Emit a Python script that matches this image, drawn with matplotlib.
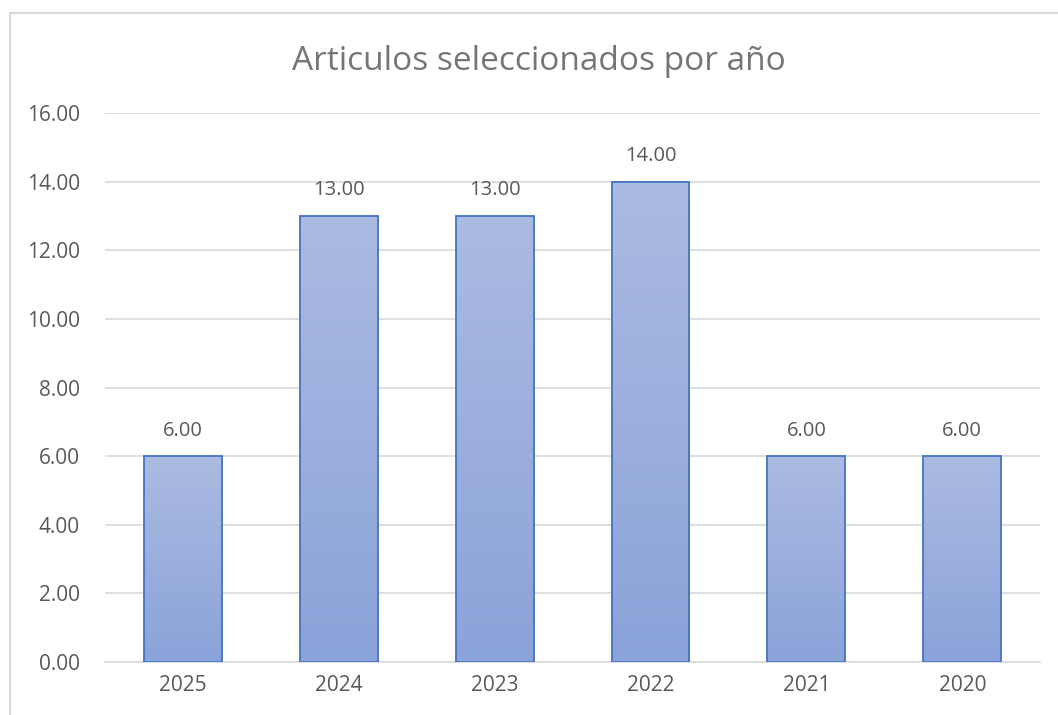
import numpy as np
import matplotlib.pyplot as plt
from matplotlib.patches import Rectangle
from matplotlib.colors import LinearSegmentedColormap

years = ['2025', '2024', '2023', '2022', '2021', '2020']
counts = [6, 13, 13, 14, 6, 6]

plt.rcParams['font.family'] = ['Open Sans', 'DejaVu Sans']

fig = plt.figure(figsize=(10.58, 7.15), dpi=100)
# outer chart frame
fig.patches.append(Rectangle((10 / 1058, -0.1), 1.2, 1.1 - 13 / 715,
                             transform=fig.transFigure, fill=False,
                             edgecolor='#d9d9d9', linewidth=1.5))
ax = fig.add_axes([0.0992, 0.074, 0.884, 0.768])

x = np.arange(len(years))
bars = ax.bar(x, counts, width=0.5, facecolor='none', edgecolor='#4472c4',
              linewidth=1.3, zorder=3)

cmap = LinearSegmentedColormap.from_list('grad', ['#8aa3d9', '#abbbe2'])
grad = np.linspace(0, 1, 256).reshape(-1, 1)
for b in bars:
    x0, w, h = b.get_x(), b.get_width(), b.get_height()
    im = ax.imshow(grad, cmap=cmap, origin='lower', aspect='auto',
                   extent=(x0, x0 + w, 0, h), zorder=2)
    im.set_clip_path(b)
    ax.text(x0 + w / 2, h + 0.45, f'{h:.2f}', ha='center', va='bottom',
            fontsize=14.5, color='#595959')

ax.set_xlim(-0.5, len(years) - 0.5)
ax.set_ylim(0, 16)
ax.set_yticks(np.arange(0, 17, 2))
ax.set_yticklabels([f'{v:.2f}' for v in np.arange(0, 17, 2)])
ax.set_xticks(x)
ax.set_xticklabels(years)
ax.tick_params(length=0, labelsize=15, labelcolor='#595959', pad=9)
ax.tick_params(axis='y', pad=18)
ax.grid(axis='y', color='#d9d9d9', linewidth=1.2, zorder=0)
ax.set_axisbelow(True)
for s in ['top', 'right', 'left']:
    ax.spines[s].set_visible(False)
ax.spines['bottom'].set_color('#d9d9d9')
ax.spines['bottom'].set_linewidth(1.2)

fig.text(0.509, 1 - 62 / 715, 'Articulos seleccionados por año', ha='center',
         va='center', fontsize=24, color='#757575')

fig.savefig('out.png', dpi=100)
